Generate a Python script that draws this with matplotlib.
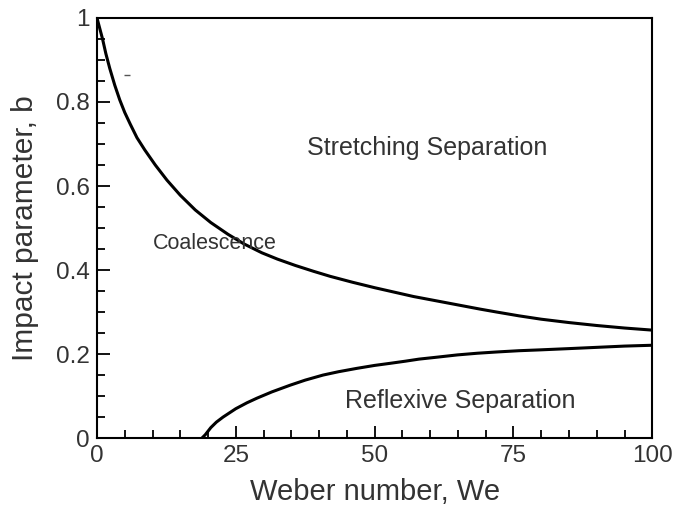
import matplotlib.pyplot as plt
from matplotlib.ticker import MultipleLocator

plt.rcParams['font.family'] = ['Liberation Sans', 'DejaVu Sans']

# --- courbe superieure : separation par etirement ---
we_haut = [0, 0.5, 1, 1.6, 2.3, 3.2, 4.1, 5, 6, 7.2, 8.6, 10.5, 12.6, 15, 17.7, 20.5,
           23.6, 26.5, 29.7, 32.5, 35.7, 39, 42, 46, 50, 54, 57, 61, 65, 69, 72, 76,
           80, 85, 90, 95, 100]
b_haut = [1.0, 0.975, 0.95, 0.915, 0.88, 0.84, 0.805, 0.775, 0.747, 0.715, 0.686, 0.65,
          0.614, 0.578, 0.543, 0.513, 0.485, 0.462, 0.441, 0.426, 0.411, 0.397, 0.385,
          0.371, 0.358, 0.346, 0.337, 0.327, 0.317, 0.307, 0.30, 0.291, 0.283, 0.275,
          0.268, 0.262, 0.257]

# --- courbe inferieure : separation reflexive ---
we_bas = [18.9, 19.5, 20.5, 21.5, 22.7, 25, 27, 28.8, 31.5, 34.8, 37.5, 40.7, 43.5,
          46.8, 50, 52.8, 55.5, 58, 61.5, 64.9, 68.5, 72, 76, 79.8, 85, 90, 95, 100]
b_bas = [0.0, 0.008, 0.025, 0.038, 0.05, 0.07, 0.084, 0.095, 0.11, 0.126, 0.138, 0.15,
         0.158, 0.166, 0.173, 0.178, 0.183, 0.188, 0.193, 0.198, 0.202, 0.205, 0.208,
         0.21, 0.213, 0.216, 0.219, 0.221]

regimes = ["Stretching Separation", "Coalescence", "Reflexive Separation"]
regimes_pos = [(37.8, 0.69), (10.1, 0.462), (44.7, 0.088)]
regimes_taille = [18, 15.5, 18]

fig = plt.figure(figsize=(6.83, 5.13), dpi=100)
ax = fig.add_axes([0.142, 0.146, 0.813, 0.819])

ax.plot(we_haut, b_haut, color='black', lw=2.2)
ax.plot(we_bas, b_bas, color='black', lw=2.2)
# petit trait parasite visible sur l'original
ax.plot([5.4], [0.864], marker='_', ms=4, mew=1, color='#555555')

for txt, (x, y), t in zip(regimes, regimes_pos, regimes_taille):
    ax.text(x, y, txt, fontsize=t, color='#333333', va='center', ha='left')

ax.set_xlim(0, 100)
ax.set_ylim(0, 1)
ax.xaxis.set_major_locator(MultipleLocator(25))
ax.xaxis.set_minor_locator(MultipleLocator(5))
ax.yaxis.set_minor_locator(MultipleLocator(0.05))
ax.set_yticks([0, 0.2, 0.4, 0.6, 0.8, 1])
ax.set_yticklabels(['0', '0.2', '0.4', '0.6', '0.8', '1'])
ax.tick_params(which='both', direction='in', top=False, right=False,
               labelsize=17.5, labelcolor='#333333', width=1.3)
ax.tick_params(which='major', length=9, pad=5)
ax.tick_params(which='minor', length=5.5)
for s in ax.spines.values():
    s.set_linewidth(1.5)

ax.set_xlabel("Weber number, We", fontsize=21, color='#333333', labelpad=8)
ax.set_ylabel("Impact parameter, b", fontsize=21.5, color='#333333', labelpad=12)

plt.savefig("out.png", dpi=100)
